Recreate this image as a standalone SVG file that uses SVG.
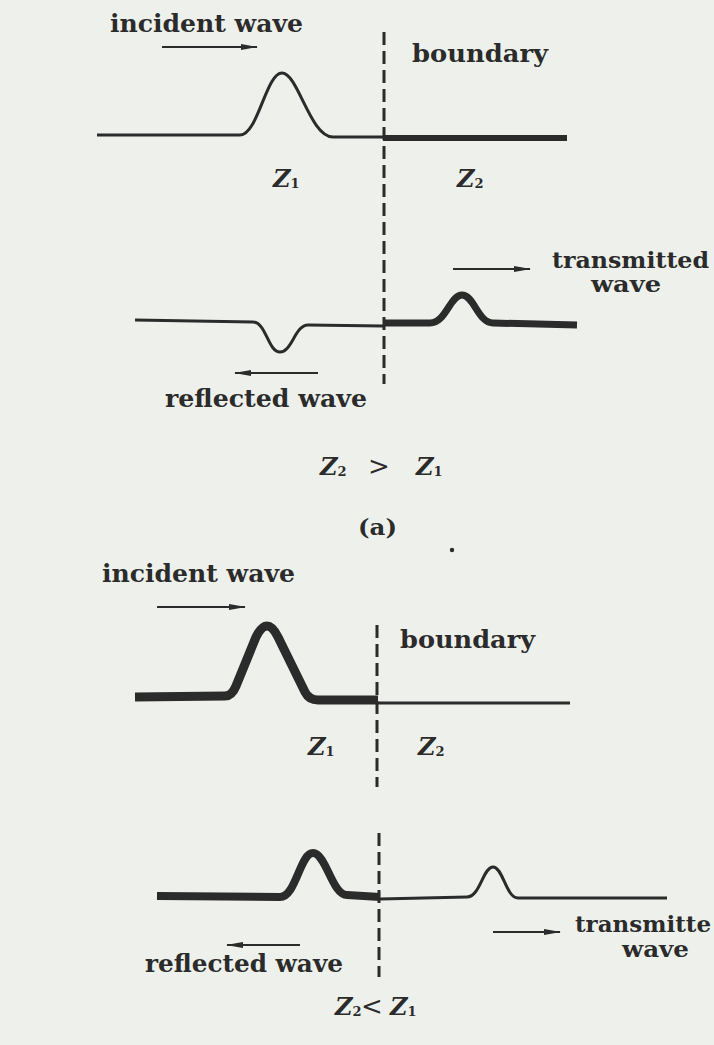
<svg xmlns="http://www.w3.org/2000/svg" width="714" height="1045" viewBox="0 0 714 1045">
<defs>
<marker id="ah" markerUnits="userSpaceOnUse" markerWidth="18" markerHeight="10" refX="16" refY="4" orient="auto">
<path d="M0,1 L17,4 L0,7 Z" fill="#2b2b2b"/>
</marker>
<style>
.t{font-family:"DejaVu Serif","Liberation Serif",serif;font-weight:bold;font-size:24px;fill:#2b2b2b}
.st{font-size:22px}
.z{font-family:"DejaVu Serif","Liberation Serif",serif;font-style:italic;font-weight:bold;font-size:24px;fill:#2b2b2b}
.s{font-family:"DejaVu Serif","Liberation Serif",serif;font-style:normal;font-weight:bold;font-size:13px;fill:#2b2b2b}
.op{font-family:"DejaVu Serif",serif;font-style:normal;font-weight:normal;font-size:26px}
.thin{fill:none;stroke:#2b2b2b;stroke-width:3;stroke-linejoin:round}
.thick{fill:none;stroke:#2b2b2b;stroke-width:7;stroke-linejoin:round}
.dash{fill:none;stroke:#2b2b2b;stroke-width:3;stroke-dasharray:13 6}
.arr{fill:none;stroke:#2b2b2b;stroke-width:2;marker-end:url(#ah)}
</style>
</defs>
<rect width="714" height="1045" fill="#eef1eb"/>

<g id="part-a">
  <g id="a-labels">
    <text class="t" x="110" y="32" textLength="193" lengthAdjust="spacingAndGlyphs">incident wave</text>
    <text class="t" x="412" y="62" textLength="136" lengthAdjust="spacingAndGlyphs">boundary</text>
    <text class="z" x="273" y="187">Z<tspan class="s" dy="1">1</tspan></text>
    <text class="z" x="457" y="187">Z<tspan class="s" dy="1">2</tspan></text>
    <text class="t st" x="552" y="268" textLength="157" lengthAdjust="spacingAndGlyphs">transmitted</text>
    <text class="t st" x="591" y="292" textLength="70" lengthAdjust="spacingAndGlyphs">wave</text>
    <text class="t" x="165" y="407" textLength="202" lengthAdjust="spacingAndGlyphs">reflected wave</text>
    <text class="z" x="320" y="475">Z<tspan class="s" dy="1">2</tspan><tspan class="op" x="368" dy="-1">&gt;</tspan><tspan x="416">Z</tspan><tspan class="s" dy="1">1</tspan></text>
    <text class="t" x="358" y="535" textLength="39" lengthAdjust="spacingAndGlyphs" style="font-size:22px">(a)</text>
  </g>
  <g id="a-waves">
    <path id="a-incident" class="thin" d="M97,135 L240,135 C258,135 266,73 282,73 C298,73 310,137 333,137 L383,137"/>
    <path id="a-medium2" class="thick" style="stroke-width:6" d="M383,138 L567,138"/>
    <path id="a-reflected" class="thin" d="M135,320 L253,322 C266,322 268,352 280,352 C292,352 295,325 308,325 L383,326"/>
    <path id="a-transmitted" class="thick" d="M383,323 L430,323 C446,323 450,295 462,295 C474,295 478,323 493,323 L577,325"/>
  </g>
  <circle cx="452" cy="550" r="2.2" fill="#2b2b2b"/>
</g>

<g id="part-b">
  <g id="b-labels">
    <text class="t" x="102" y="582" textLength="193" lengthAdjust="spacingAndGlyphs">incident wave</text>
    <text class="t" x="400" y="648" textLength="135" lengthAdjust="spacingAndGlyphs">boundary</text>
    <text class="z" x="308" y="755">Z<tspan class="s" dy="1">1</tspan></text>
    <text class="z" x="418" y="755">Z<tspan class="s" dy="1">2</tspan></text>
    <text class="t st" x="575" y="932" textLength="136" lengthAdjust="spacingAndGlyphs">transmitte</text>
    <text class="t st" x="622" y="957" textLength="67" lengthAdjust="spacingAndGlyphs">wave</text>
    <text class="t" x="145" y="972" textLength="198" lengthAdjust="spacingAndGlyphs">reflected wave</text>
    <text class="z" x="335" y="1015">Z<tspan class="s" dy="1">2</tspan><tspan class="op" x="361" dy="-1">&lt;</tspan><tspan x="390">Z</tspan><tspan class="s" dy="1">1</tspan></text>
  </g>
  <g id="b-waves">
    <path id="b-incident" class="thick" style="stroke-width:9" d="M135,697 L225,696 Q232,696 236,686 L256,637 Q267,615 278,637 L305,692 Q309,700 318,700 L378,700"/>
    <path id="b-medium2" class="thin" d="M378,703 L570,703"/>
    <path id="b-reflected" class="thick" style="stroke-width:8" d="M157,896 L280,897 C296,897 300,853 313,853 C326,853 332,895 347,895 L380,897"/>
    <path id="b-transmitted" class="thin" d="M380,899 L467,897 C480,897 483,867 493,867 C503,867 506,898 518,898 L667,898"/>
  </g>
</g>

<g id="connectors">
  <line class="dash" x1="384" y1="32" x2="384" y2="384"/>
  <line class="dash" x1="377" y1="625" x2="377" y2="787"/>
  <line class="dash" x1="379" y1="833" x2="379" y2="977"/>
  <line class="arr" x1="162" y1="47" x2="257" y2="47"/>
  <line class="arr" x1="453" y1="269" x2="530" y2="269"/>
  <line class="arr" x1="318" y1="373" x2="235" y2="373"/>
  <line class="arr" x1="157" y1="607" x2="245" y2="607"/>
  <line class="arr" x1="300" y1="945" x2="227" y2="945"/>
  <line class="arr" x1="493" y1="932" x2="560" y2="932"/>
</g>
</svg>
